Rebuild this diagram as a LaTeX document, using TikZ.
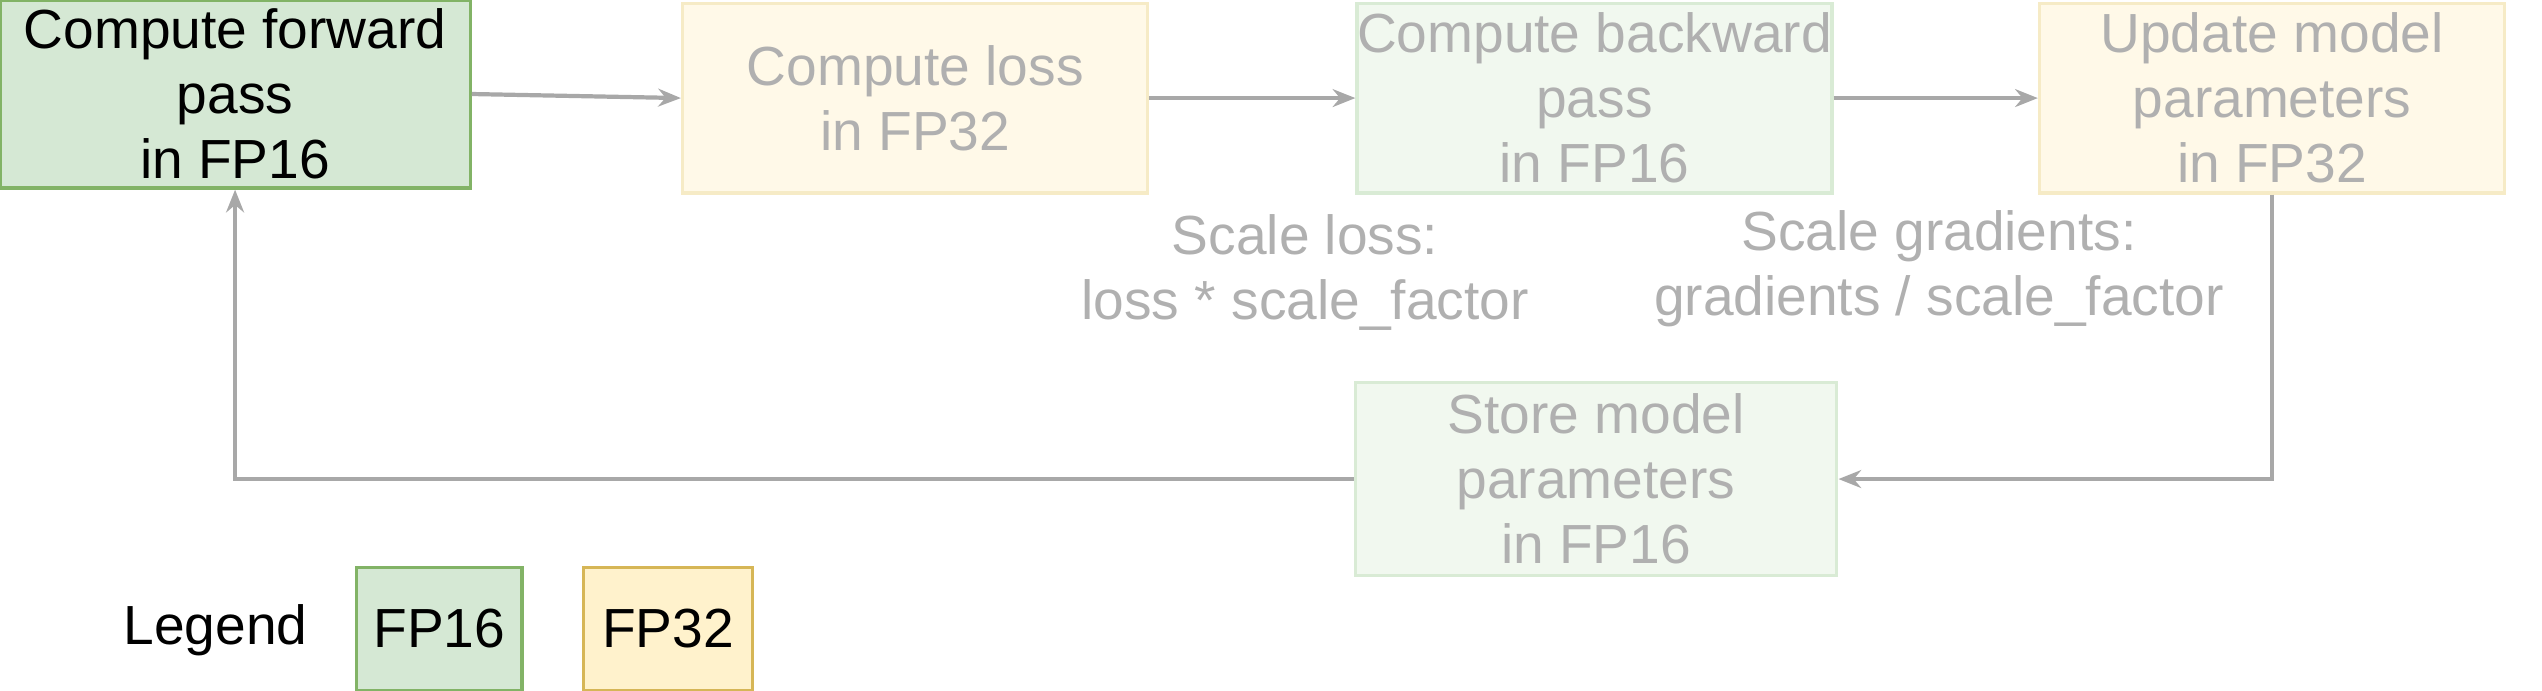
\documentclass[tikz,border=0pt]{standalone}
\usepackage{fontspec}
\setmainfont{Liberation Sans}
\usetikzlibrary{arrows.meta}
\definecolor{gfill}{HTML}{D5E8D4}\definecolor{gline}{HTML}{82B366}
\definecolor{yfill}{HTML}{FFF2CC}\definecolor{yline}{HTML}{D6B656}
\definecolor{gfillf}{HTML}{F1F8EF}\definecolor{glinef}{HTML}{D9EBD5}
\definecolor{yfillf}{HTML}{FFF9E8}\definecolor{ylinef}{HTML}{F6EBC6}
\definecolor{ftext}{HTML}{B0B0B0}\definecolor{arr}{HTML}{A8A8A8}
\begin{document}
\begin{tikzpicture}[x=0.5pt,y=-0.5pt,
 box/.style={draw,line width=1pt,align=center,inner sep=0pt,font=\fontsize{17}{20}\selectfont},
 lbl/.style={align=center,font=\fontsize{17}{20}\selectfont,text=ftext},
 conn/.style={draw=arr,line width=1.3pt,-{Stealth[length=7pt,width=5.5pt]}}]
\useasboundingbox (0,0) rectangle (1568,426);
\node[box,fill=gfill,draw=gline,minimum width=145pt,minimum height=58pt] (b1) at (145,58) {Compute forward\\pass\\in FP16};
\node[box,fill=yfillf,draw=ylinef,text=ftext,minimum width=143.5pt,minimum height=58.5pt] (b2) at (564.5,60.5) {Compute loss\\in FP32};
\node[box,fill=gfillf,draw=glinef,text=ftext,minimum width=143.5pt,minimum height=58.5pt] (b3) at (983.5,60.5) {Compute backward\\pass\\in FP16};
\node[box,fill=yfillf,draw=ylinef,text=ftext,minimum width=143.5pt,minimum height=58.5pt] (b4) at (1401.5,60.5) {Update model\\parameters\\in FP32};
\node[box,fill=gfillf,draw=glinef,text=ftext,minimum width=148.5pt,minimum height=59.5pt] (b5) at (984.5,295.5) {Store model\\parameters\\in FP16};
\node[lbl] (l1) at (805,168) {Scale loss:\\loss * scale\_factor};
\node[lbl] (l2) at (1196,166) {Scale gradients:\\gradients / scale\_factor};
\node[font=\fontsize{17}{20}\selectfont] (leg) at (133,389) {Legend};
\node[box,fill=gfill,draw=gline,minimum width=51pt,minimum height=38pt] (k1) at (271,388) {FP16};
\node[box,fill=yfill,draw=yline,minimum width=52pt,minimum height=38pt] (k2) at (412,388) {FP32};
\draw[conn] (b1.east) -- (b2.west);
\draw[conn] (b2.east) -- (b3.west);
\draw[conn] (b3.east) -- (b4.west);
\draw[conn] (b4.south) |- (b5.east);
\draw[conn] (b5.west) -| (b1.south);
\end{tikzpicture}
\end{document}
